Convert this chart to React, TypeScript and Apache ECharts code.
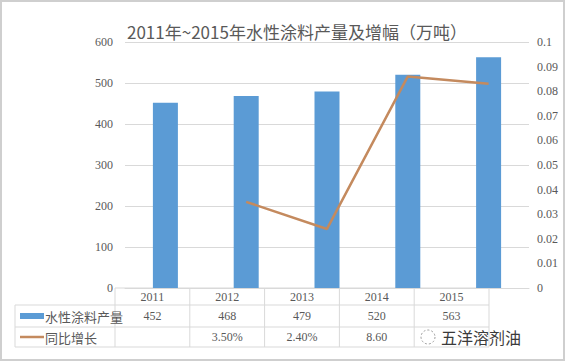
import React, { useEffect, useRef } from "react";
import * as echarts from "echarts";

const categories = ["2011", "2012", "2013", "2014", "2015"];
const output = [452, 468, 479, 520, 563];
const growth: (number | null)[] = [null, 0.035, 0.024, 0.086, 0.083];
// the 2015 cell of the table is hidden by the watermark in the reference
const growthLabels = ["", "3.50%", "2.40%", "8.60", ""];
const seriesNames = ["水性涂料产量", "同比增长"];
const titleText = "2011年~2015年水性涂料产量及增幅（万吨）";
const watermark = "五洋溶剂油";

const BLUE = "#5b9bd5";
const ORANGE = "#c48a5e";
const GRID = "#d9d9d9";
const TXT = "#595959";
const NUMFONT = "Liberation Serif";

export default function App() {
  const ref = useRef<HTMLDivElement>(null);
  useEffect(() => {
    const chart = echarts.init(ref.current!, null, { renderer: "svg" });

    const colLeft = 115;
    const colW = 74.8;
    const rowY = [288, 305, 327, 347];
    const tableRight = colLeft + colW * categories.length;
    const elements: any[] = [];
    elements.push({ type: "rect", shape: { x: 1, y: 1, width: 563, height: 359 }, style: { fill: "none", stroke: "#cfcfcf", lineWidth: 2 }, silent: true });
    elements.push({ type: "line", shape: { x1: colLeft, y1: rowY[0], x2: tableRight, y2: rowY[0] }, style: { stroke: GRID, lineWidth: 1 } });
    for (let i = 1; i < rowY.length; i++) {
      elements.push({ type: "line", shape: { x1: 15, y1: rowY[i], x2: tableRight, y2: rowY[i] }, style: { stroke: GRID, lineWidth: 1 } });
    }
    elements.push({ type: "line", shape: { x1: 15, y1: rowY[1], x2: 15, y2: rowY[3] }, style: { stroke: GRID, lineWidth: 1 } });
    for (let i = 0; i <= categories.length; i++) {
      const x = colLeft + colW * i;
      elements.push({ type: "line", shape: { x1: x, y1: rowY[0], x2: x, y2: rowY[3] }, style: { stroke: GRID, lineWidth: 1 } });
    }
    categories.forEach((c, i) => {
      const cx = colLeft + colW * (i + 0.5);
      elements.push({ type: "text", x: cx, y: (rowY[0] + rowY[1]) / 2, style: { text: c, fill: TXT, font: `12px '${NUMFONT}'`, textAlign: "center", textVerticalAlign: "middle" } });
      elements.push({ type: "text", x: cx, y: (rowY[1] + rowY[2]) / 2, style: { text: String(output[i]), fill: TXT, font: `12px '${NUMFONT}'`, textAlign: "center", textVerticalAlign: "middle" } });
      if (growthLabels[i]) {
        elements.push({ type: "text", x: cx, y: (rowY[2] + rowY[3]) / 2, style: { text: growthLabels[i], fill: TXT, font: `12px '${NUMFONT}'`, textAlign: "center", textVerticalAlign: "middle" } });
      }
    });
    elements.push({ type: "rect", shape: { x: 20, y: 313, width: 24, height: 6 }, style: { fill: BLUE } });
    elements.push({ type: "text", x: 45, y: 316, style: { text: seriesNames[0], fill: TXT, font: "13px 'Noto Sans CJK SC'", textVerticalAlign: "middle" } });
    elements.push({ type: "line", shape: { x1: 20, y1: 337, x2: 44, y2: 337 }, style: { stroke: ORANGE, lineWidth: 2.5 } });
    elements.push({ type: "text", x: 45, y: 337, style: { text: seriesNames[1], fill: TXT, font: "13px 'Noto Sans CJK SC'", textVerticalAlign: "middle" } });
    // watermark
    elements.push({ type: "circle", shape: { cx: 428, cy: 337, r: 7 }, style: { fill: "none", stroke: "#9a9a9a", lineWidth: 1, lineDash: [2, 2] } });
    elements.push({ type: "text", x: 441, y: 337, style: { text: watermark, fill: "#3a3a3a", font: "16px 'Noto Sans CJK SC'", textVerticalAlign: "middle" } });

    chart.setOption({
      animation: false,
      backgroundColor: "#ffffff",
      title: {
        text: titleText,
        left: 122,
        top: 18,
        textStyle: { fontFamily: "Noto Sans CJK SC", fontSize: 17, fontWeight: "normal", color: TXT },
      },
      grid: { left: 125, right: 36, top: 42, bottom: 76 },
      xAxis: {
        type: "category",
        data: categories,
        axisLine: { lineStyle: { color: GRID } },
        axisTick: { show: false },
        axisLabel: { show: false },
      },
      yAxis: [
        {
          type: "value",
          min: 0,
          max: 600,
          interval: 100,
          axisLine: { show: false },
          axisTick: { show: false },
          axisLabel: { color: TXT, fontFamily: NUMFONT, fontSize: 12, margin: 12 },
          splitLine: { lineStyle: { color: GRID } },
        },
        {
          type: "value",
          min: 0,
          max: 0.1,
          interval: 0.01,
          axisLine: { show: false },
          axisTick: { show: false },
          splitLine: { show: false },
          axisLabel: {
            color: TXT,
            fontFamily: NUMFONT,
            fontSize: 12,
            margin: 8,
            formatter: (v: number) => String(parseFloat(v.toFixed(2))),
          },
        },
      ],
      series: [
        {
          name: seriesNames[0],
          type: "bar",
          data: output,
          barWidth: 25,
          itemStyle: { color: BLUE },
        },
        {
          name: seriesNames[1],
          type: "line",
          yAxisIndex: 1,
          data: growth,
          showSymbol: false,
          symbol: "none",
          lineStyle: { color: ORANGE, width: 2.5 },
        },
      ],
      graphic: { elements },
    });
    return () => chart.dispose();
  }, []);
  return (
    <div
      ref={ref}
      style={{ position: "fixed", left: 0, top: 0, width: 565, height: 364 }}
    />
  );
}
